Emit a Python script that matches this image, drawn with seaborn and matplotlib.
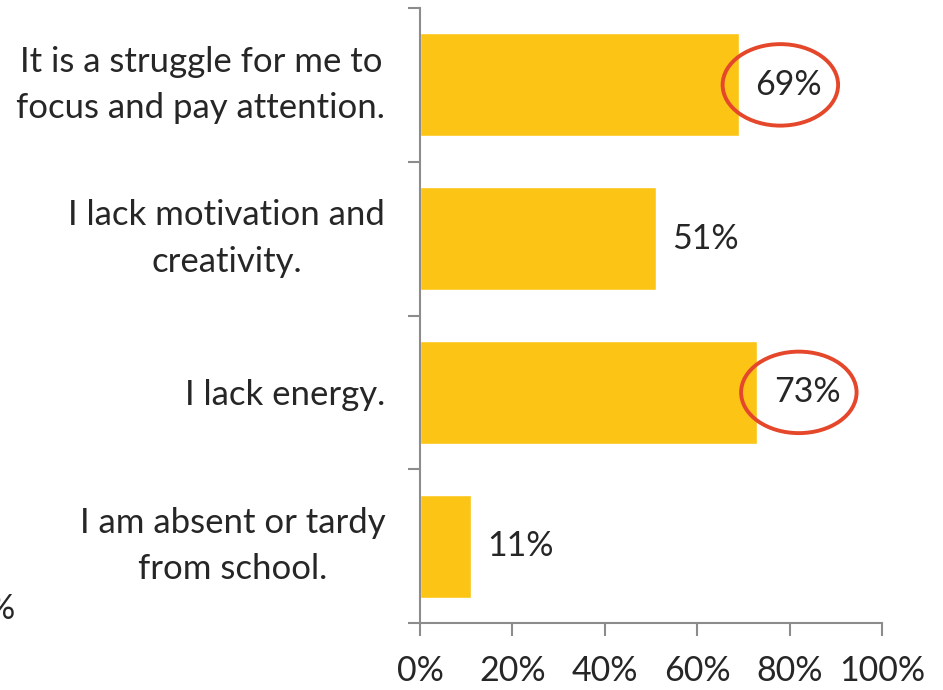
import numpy as np
import pandas as pd
import seaborn as sns
import matplotlib.pyplot as plt
from matplotlib.patches import Ellipse

# ========================================
# Data
# ========================================
statements = [
    "It is a struggle for me to\nfocus and pay attention.",
    "I lack motivation and\ncreativity.",
    "I lack energy.",
    "I am absent or tardy\nfrom school.",
]
percents = [69, 51, 73, 11]
circled = [True, False, True, False]
x_ticks = [0, 20, 40, 60, 80, 100]

bar_color = "#FCC516"
axis_gray = "#8C8C8C"
ring_red = "#E5472B"

# ========================================
# Plot
# ========================================
sns.set_style("white")
plt.rcParams['font.family'] = ['Lato', 'DejaVu Sans']

df = pd.DataFrame({"statement": statements, "pct": percents})

fig = plt.figure(figsize=(9.43, 6.9), dpi=100)
ax = fig.add_axes([0.4454, 0.0971, 0.4899, 0.8913])

sns.barplot(data=df, x="pct", y="statement", orient="h", color=bar_color,
            width=0.67, saturation=1, ax=ax)

ax.set_xlim(0, 100)
ax.set_ylim(len(statements) - 0.5, -0.5)
ax.set_xticks(x_ticks)
ax.set_xticklabels([f"{t}%" for t in x_ticks], fontsize=24.5)
ax.set_xlabel("")
ax.set_ylabel("")

# category labels centred in each band, boundaries marked by minor ticks
ax.set_yticks(np.arange(len(statements)))
ax.set_yticklabels(statements, fontsize=25)
for lab in ax.get_yticklabels():
    lab.set_multialignment("center")
    lab.set_linespacing(1.55)
    if "\n" in lab.get_text():
        lab.set_verticalalignment("center")
ax.set_yticks(np.arange(len(statements) + 1) - 0.5, minor=True)
ax.tick_params(axis="y", which="major", left=False, length=0, pad=25)
ax.tick_params(axis="y", which="minor", left=True, length=9, width=1.5,
               color=axis_gray, direction="out")
ax.tick_params(axis="x", which="major", bottom=True, length=9, width=1.5,
               color=axis_gray, direction="out", pad=14)

for side in ["top", "right"]:
    ax.spines[side].set_visible(False)
for side in ["left", "bottom"]:
    ax.spines[side].set_color(axis_gray)
    ax.spines[side].set_linewidth(1.5)

ax.bar_label(ax.containers[0], labels=[f"{p}%" for p in percents],
             padding=12, fontsize=24.5)

# red rings around the highlighted values
for i, (p, hit) in enumerate(zip(percents, circled)):
    if hit:
        ax.add_patch(Ellipse((p + 9, i), 25, 0.53, fill=False,
                             edgecolor=ring_red, linewidth=2.8, clip_on=False))

# clipped remnant from neighbouring slide
fig.text(-0.013, 0.117, "%", fontsize=24.5, ha="left", va="center")

fig.savefig("out.png", dpi=100)
